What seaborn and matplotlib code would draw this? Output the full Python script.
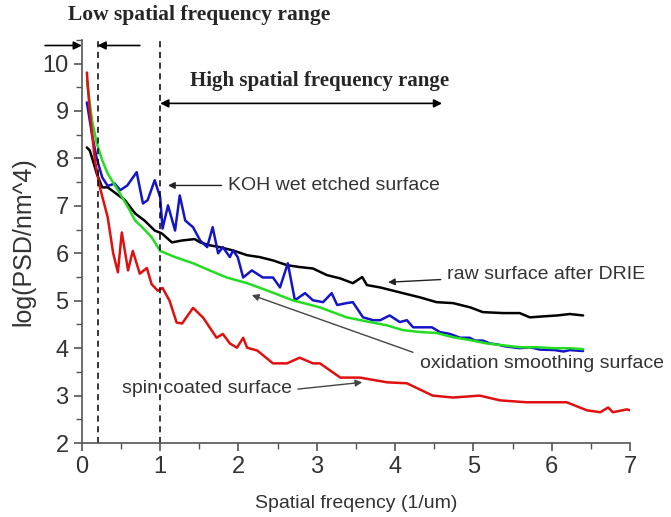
import matplotlib
matplotlib.use("Agg")
import matplotlib.pyplot as plt
import seaborn as sns
import pandas as pd

# ---- data ----
red_x = [0.064, 0.10, 0.166, 0.23, 0.33, 0.40, 0.46, 0.51, 0.59, 0.65, 0.74, 0.83, 0.89, 0.97,
         1.03, 1.12, 1.21, 1.28, 1.42, 1.55, 1.72, 1.80, 1.89, 1.98, 2.06, 2.11, 2.24, 2.44,
         2.62, 2.78, 2.95, 3.04, 3.17, 3.30, 3.55, 3.90, 4.15, 4.48, 4.74, 5.08, 5.34, 5.68,
         6.02, 6.19, 6.45, 6.62, 6.72, 6.78, 6.96, 7.0]
red_y = [9.81, 9.01, 7.96, 7.39, 6.76, 6.0, 5.6, 6.44, 5.64, 6.05, 5.57, 5.69, 5.35, 5.21,
         5.27, 5.0, 4.54, 4.52, 4.85, 4.64, 4.22, 4.30, 4.10, 4.01, 4.22, 4.01, 3.95, 3.68,
         3.68, 3.80, 3.68, 3.68, 3.53, 3.38, 3.38, 3.28, 3.26, 3.00, 2.96, 3.00, 2.90, 2.86,
         2.86, 2.86, 2.69, 2.65, 2.75, 2.65, 2.71, 2.69]

black_x = [0.064, 0.10, 0.14, 0.19, 0.26, 0.33, 0.38, 0.55, 0.68, 0.80, 0.93, 1.02, 1.15, 1.28,
           1.44, 1.51, 1.63, 1.76, 1.93, 2.11, 2.27, 2.44, 2.62, 2.78, 2.95, 3.13, 3.30, 3.46,
           3.58, 3.64, 3.81, 4.10, 4.32, 4.53, 4.74, 4.96, 5.12, 5.38, 5.59, 5.72, 5.89, 6.07,
           6.23, 6.40]
black_y = [8.23, 8.17, 7.96, 7.68, 7.39, 7.39, 7.33, 7.12, 6.84, 6.69, 6.48, 6.42, 6.23, 6.27,
           6.30, 6.23, 6.17, 6.13, 6.06, 5.96, 5.92, 5.85, 5.75, 5.71, 5.68, 5.54, 5.47, 5.37,
           5.50, 5.33, 5.28, 5.16, 5.07, 4.97, 4.95, 4.86, 4.76, 4.74, 4.74, 4.65, 4.67, 4.69,
           4.72, 4.69]

green_x = [0.064, 0.13, 0.19, 0.26, 0.33, 0.46, 0.59, 0.68, 0.77, 0.89, 1.0, 1.19, 1.42, 1.63,
           1.85, 2.11, 2.36, 2.69, 3.04, 3.38, 3.68, 3.90, 4.10, 4.32, 4.53, 4.74, 4.96, 5.17,
           5.38, 5.59, 5.81, 6.02, 6.23, 6.40]
green_y = [9.64, 8.8, 8.32, 7.96, 7.68, 7.33, 6.97, 6.69, 6.55, 6.34, 6.05, 5.92, 5.79, 5.64,
           5.49, 5.37, 5.22, 5.01, 4.86, 4.65, 4.55, 4.48, 4.38, 4.34, 4.32, 4.23, 4.17, 4.10,
           4.06, 4.02, 4.02, 4.00, 4.00, 3.98]

blue_x = [0.064, 0.13, 0.19, 0.26, 0.33, 0.42, 0.49, 0.58, 0.70, 0.78, 0.84, 0.93, 1.0, 1.03,
          1.10, 1.19, 1.25, 1.32, 1.42, 1.51, 1.60, 1.67, 1.74, 1.80, 1.89, 1.93, 1.99, 2.06,
          2.17, 2.31, 2.44, 2.53, 2.63, 2.72, 2.85, 2.95, 3.08, 3.19, 3.26, 3.38, 3.46, 3.59,
          3.72, 3.81, 3.93, 4.06, 4.15, 4.23, 4.32, 4.47, 4.57, 4.70, 4.83, 4.95, 5.02, 5.12,
          5.21, 5.30, 5.40, 5.59, 5.72, 5.85, 6.04, 6.15, 6.23, 6.40]
blue_y = [9.18, 8.5, 8.0, 7.6, 7.42, 7.47, 7.33, 7.43, 7.71, 7.05, 7.12, 7.54, 7.18, 6.52,
          7.01, 6.48, 7.22, 6.69, 6.55, 6.27, 6.13, 6.55, 6.00, 6.13, 5.92, 6.06, 5.92, 5.49,
          5.64, 5.49, 5.49, 5.28, 5.79, 5.01, 5.16, 5.01, 4.97, 5.16, 4.91, 4.95, 4.97, 4.65,
          4.59, 4.59, 4.69, 4.55, 4.59, 4.44, 4.44, 4.44, 4.34, 4.30, 4.22, 4.22, 4.16, 4.16,
          4.10, 4.08, 4.04, 4.00, 4.02, 3.97, 3.96, 3.93, 3.96, 3.94]

x_ticks = [0, 1, 2, 3, 4, 5, 6, 7]
y_ticks = [2, 3, 4, 5, 6, 7, 8, 9, 10]

sns.set_style("ticks")
plt.rcParams['font.family'] = ['Liberation Sans', 'DejaVu Sans']

fig = plt.figure(figsize=(6.71, 5.17), dpi=100)
ax = fig.add_axes([0.122, 0.143, 0.817, 0.780])

series = [
    (black_x, black_y, "#000000"),
    (blue_x, blue_y, "#1515c8"),
    (green_x, green_y, "#22dd22"),
    (red_x, red_y, "#e01010"),
]
for xs, ys, c in series:
    df = pd.DataFrame({"x": xs, "y": ys})
    sns.lineplot(data=df, x="x", y="y", ax=ax, color=c, linewidth=1.8,
                 sort=False, estimator=None)

ax.set_xlim(0, 7)
ax.set_ylim(2, 10.5)
ax.set_xticks(x_ticks)
ax.set_yticks(y_ticks)
ax.set_xticks([v + 0.5 for v in x_ticks[:-1]], minor=True)
ax.set_yticks([v + 0.5 for v in y_ticks], minor=True)
ax.tick_params(axis="both", which="major", direction="out", length=6, width=1.2,
               labelsize=17, labelcolor="#333333", color="#555555")
ax.tick_params(axis="both", which="minor", direction="out", length=4, width=1.0,
               color="#555555")
sns.despine(ax=ax)
for s in ("left", "bottom"):
    ax.spines[s].set_color("#555555")
    ax.spines[s].set_linewidth(1.2)

ax.set_xlabel("Spatial freqency (1/um)", fontsize=14, color="#333333", labelpad=12)
ax.set_ylabel("log(PSD/nm^4)", fontsize=18, color="#333333", labelpad=5)

# dashed range boundaries
for xv in (0.2, 1.0):
    ax.plot([xv, xv], [2, 10.55], linestyle=(0, (4, 3)), color="black", linewidth=1.1,
            clip_on=False)

serif = ['Liberation Serif', 'DejaVu Serif']
fig.text(0.297, 0.971, "Low spatial frequency range", family=serif, fontweight="bold",
         fontsize=15.5, ha="center", va="center")
ax.text(1.38, 9.64, "High spatial frequency range", family=serif, fontweight="bold",
        fontsize=15, ha="left", va="center")

arrow_kw = dict(arrowstyle="-|>", color="black", lw=1.2, mutation_scale=12, shrinkA=0, shrinkB=0)
ax.annotate("", xy=(0.0, 10.38), xytext=(-0.47, 10.38), arrowprops=arrow_kw,
            annotation_clip=False)
ax.annotate("", xy=(0.2, 10.38), xytext=(0.74, 10.38), arrowprops=arrow_kw,
            annotation_clip=False)
ax.annotate("", xy=(1.0, 9.16), xytext=(4.6, 9.16),
            arrowprops=dict(arrowstyle="<|-|>", color="black", lw=1.2, mutation_scale=12,
                            shrinkA=0, shrinkB=0))

lab_kw = dict(fontsize=14, color="#333333", va="center", ha="left")
ax.annotate("KOH wet etched surface", xy=(1.1, 7.43), xytext=(1.86, 7.43),
            arrowprops=dict(arrowstyle="-|>", color="#222222", lw=1.0, mutation_scale=10,
                            shrinkB=0), **lab_kw)
ax.annotate("raw surface after DRIE", xy=(3.91, 5.39), xytext=(4.66, 5.56),
            arrowprops=dict(arrowstyle="-|>", color="#222222", lw=1.0, mutation_scale=10,
                            shrinkB=0), **lab_kw)
ax.annotate("oxidation smoothing surface", xy=(2.17, 5.12), xytext=(4.32, 3.68),
            arrowprops=dict(arrowstyle="-|>", color="#444444", lw=1.0, mutation_scale=10,
                            shrinkA=3, shrinkB=0, relpos=(0, 1)), **lab_kw)
ax.annotate("spin coated surface", xy=(3.58, 3.28), xytext=(0.51, 3.16),
            arrowprops=dict(arrowstyle="-|>", color="#444444", lw=1.0, mutation_scale=10,
                            shrinkB=0, relpos=(1, 0.4)), **lab_kw)

fig.savefig("out.png", dpi=100)
